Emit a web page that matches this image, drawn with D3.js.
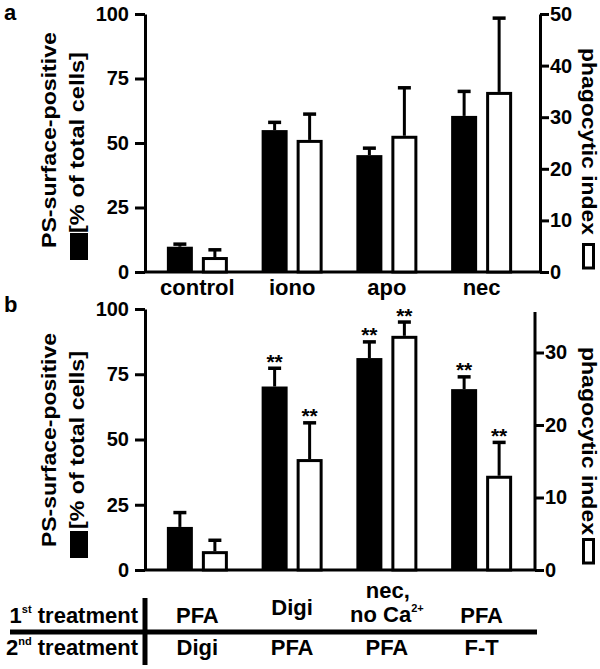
<!DOCTYPE html>
<html><head><meta charset="utf-8">
<script src="https://cdn.jsdelivr.net/npm/d3@7"></script>
<style>
body{margin:0;background:#fff}
svg text{font-family:"Liberation Sans",Arial,Helvetica,sans-serif;font-weight:bold;fill:#000}
</style>
</head><body>
<svg id="c" width="600" height="669"></svg>
<script>
// ---------- data ----------
const catsA = ["control", "iono", "apo", "nec"];
const psA = [9.8, 55, 45.3, 60.5];        // PS-surface-positive (% of total cells), left axis
const psSdA = [1.0, 3.0, 2.7, 9.5];
const phA = [2.9, 25.6, 26.4, 34.9];      // phagocytic index, right axis
const phSdA = [1.4, 5.0, 9.3, 14.3];
const leftTicks = [0, 25, 50, 75, 100];
const rightTicksA = [0, 10, 20, 30, 40, 50];

const catsB = ["g1", "g2", "g3", "g4"];
const treat1 = ["PFA", "Digi", "nec,|no Ca", "PFA"];
const treat2 = ["Digi", "PFA", "PFA", "F-T"];
const psB = [16.5, 70.3, 81.2, 69.3];
const psSdB = [5.5, 7.0, 6.2, 4.7];
const phB = [2.6, 15.3, 32.3, 13.0];
const phSdB = [1.5, 5.0, 1.9, 4.6];
const sigB = ["", "**", "**", "**"];
const rightTicksB = [0, 10, 20, 30];

// ---------- drawing ----------
const svg = d3.select("#c");
const LX = 145;

function txt(g, s, x, y, size, anchor, opts = {}) {
  const t = g.append("text").attr("x", x).attr("y", y)
    .attr("font-size", size).attr("text-anchor", anchor || "start").text(s);
  if (opts.len) t.attr("textLength", opts.len).attr("lengthAdjust", "spacingAndGlyphs");
  if (opts.transform) t.attr("transform", opts.transform).attr("x", 0).attr("y", 0);
  return t;
}

function panel(cfg) {
  const g = svg.append("g");
  const yL = d3.scaleLinear().domain([0, 100]).range([cfg.y0, cfg.y100]);
  const yR = d3.scaleLinear().domain(cfg.rDomain).range([cfg.y0, cfg.y100]);
  const x = d3.scaleBand().domain(cfg.cats).range([150, 529]);
  const sub = d3.scaleBand().domain(["ps", "ph"]).range([-30.5, 30.5]).paddingInner(9 / 35);

  // left axis
  const ga = g.append("g").attr("transform", `translate(${LX},0)`)
    .call(d3.axisLeft(yL).tickValues(leftTicks).tickSize(10).tickPadding(6).tickSizeOuter(0));
  // right axis
  const gr = g.append("g").attr("transform", `translate(${cfg.rx},0)`)
    .call(d3.axisRight(yR).tickValues(cfg.rTicks).tickSize(9).tickPadding(1).tickSizeOuter(0));
  [ga, gr].forEach(a => {
    a.select(".domain").attr("stroke-width", 3).attr("stroke", "#000");
    a.selectAll(".tick line").attr("stroke-width", 3).attr("stroke", "#000");
    a.selectAll(".tick text").attr("font-size", 20).style("font-weight", "bold")
      .style("font-family", '"Liberation Sans",Arial,sans-serif').attr("fill", "#000");
  });
  if (cfg.rTop !== undefined) {
    gr.select(".domain").attr("d", `M0,${cfg.y0}V${cfg.rTop}`);
  }
  // baseline
  g.append("line").attr("x1", LX).attr("x2", cfg.rx).attr("y1", cfg.y0).attr("y2", cfg.y0)
    .attr("stroke", "#000").attr("stroke-width", 3);

  cfg.cats.forEach((c, i) => {
    const cx = x(c) + x.bandwidth() / 2;
    const bx = cx + sub("ps"), wx = cx + sub("ph"), bw = sub.bandwidth();
    // black bar
    g.append("rect").attr("x", bx).attr("width", bw)
      .attr("y", yL(cfg.ps[i])).attr("height", cfg.y0 - yL(cfg.ps[i])).attr("fill", "#000");
    // white bar
    g.append("rect").attr("x", wx + 1.5).attr("width", bw - 3)
      .attr("y", yR(cfg.ph[i]) + 1.5).attr("height", cfg.y0 - yR(cfg.ph[i]) - 1.5)
      .attr("fill", "#fff").attr("stroke", "#000").attr("stroke-width", 3);
    // error bars
    [[bx + bw / 2, yL(cfg.ps[i]), yL(cfg.ps[i] + cfg.psSd[i])],
     [wx + bw / 2, yR(cfg.ph[i]), yR(cfg.ph[i] + cfg.phSd[i])]].forEach(([ex, yb, ye]) => {
      g.append("line").attr("x1", ex).attr("x2", ex).attr("y1", yb).attr("y2", ye)
        .attr("stroke", "#000").attr("stroke-width", 3);
      g.append("line").attr("x1", ex - 6.5).attr("x2", ex + 6.5).attr("y1", ye).attr("y2", ye)
        .attr("stroke", "#000").attr("stroke-width", 3.5);
      if (cfg.sig && cfg.sig[i]) txt(g, cfg.sig[i], ex, ye + 0.5, 21, "middle");
    });
    if (cfg.labels) txt(g, cfg.labels[i], cx, 295, 22, "middle");
  });

  // left axis title
  txt(g, "PS-surface-positive", 0, 0, 21, "middle",
    { len: cfg.l1len, transform: `translate(56,${cfg.l1c}) rotate(-90)` });
  txt(g, "[% of total cells]", 0, 0, 21, "middle",
    { len: cfg.l2len, transform: `translate(84,${cfg.l2c}) rotate(-90)` });
  g.append("rect").attr("x", 70).attr("y", cfg.sqL).attr("width", 18).attr("height", 27).attr("fill", "#000");
  // right axis title
  txt(g, "phagocytic index", 0, 0, 20, "middle",
    { len: cfg.r1len, transform: `translate(582,${cfg.r1c}) rotate(90)` });
  g.append("rect").attr("x", 583.5).attr("y", cfg.sqR).attr("width", 10).attr("height", 23.5)
    .attr("fill", "#fff").attr("stroke", "#000").attr("stroke-width", 3);
  // panel letter
  txt(g, cfg.letter, 4, cfg.letterY, 22, "start");
  return x;
}

panel({ y0: 272, y100: 14, rx: 540, rDomain: [0, 50], rTicks: rightTicksA,
  cats: catsA, ps: psA, psSd: psSdA, ph: phA, phSd: phSdA, labels: catsA,
  l1c: 140, l1len: 216, l2c: 142.5, l2len: 181, sqL: 233, r1c: 141.5, r1len: 187, sqR: 244.5,
  letter: "a", letterY: 20 });

const xB = panel({ y0: 570, y100: 309, rx: 535, rDomain: [0, 36], rTicks: rightTicksB, rTop: 312,
  cats: catsB, ps: psB, psSd: psSdB, ph: phB, phSd: phSdB, sig: sigB,
  l1c: 440, l1len: 214, l2c: 440, l2len: 178, sqL: 531, r1c: 441, r1len: 188, sqR: 539.5,
  letter: "b", letterY: 312 });

// ---------- treatment table ----------
const tg = svg.append("g");
tg.append("line").attr("x1", 10).attr("x2", 537).attr("y1", 632).attr("y2", 632)
  .attr("stroke", "#000").attr("stroke-width", 5);
tg.append("line").attr("x1", 145).attr("x2", 145).attr("y1", 598).attr("y2", 665)
  .attr("stroke", "#000").attr("stroke-width", 5);

function rowHead(num, sup, y) {
  const t = tg.append("text").attr("x", 138).attr("y", y).attr("font-size", 22).attr("text-anchor", "end");
  t.append("tspan").text(num);
  t.append("tspan").attr("font-size", 11).attr("dy", -10).text(sup);
  t.append("tspan").attr("dy", 10).text(" treatment");
}
rowHead("1", "st", 623);
rowHead("2", "nd", 655);

const row1Y = [623, 615, 622, 623];
catsB.forEach((c, i) => {
  const cx = xB(c) + xB.bandwidth() / 2;
  const s = treat1[i];
  if (s.includes("|")) {
    const [a, b] = s.split("|");
    txt(tg, a, cx + 1, 598, 22, "middle");
    const t = tg.append("text").attr("x", cx).attr("y", row1Y[i]).attr("font-size", 22).attr("text-anchor", "middle");
    t.append("tspan").text(b);
    t.append("tspan").attr("font-size", 11).attr("dy", -10).text("2+");
  } else {
    txt(tg, s, cx, row1Y[i], 22, "middle");
  }
  txt(tg, treat2[i], cx, 655, 22, "middle");
});
</script>
</body></html>
